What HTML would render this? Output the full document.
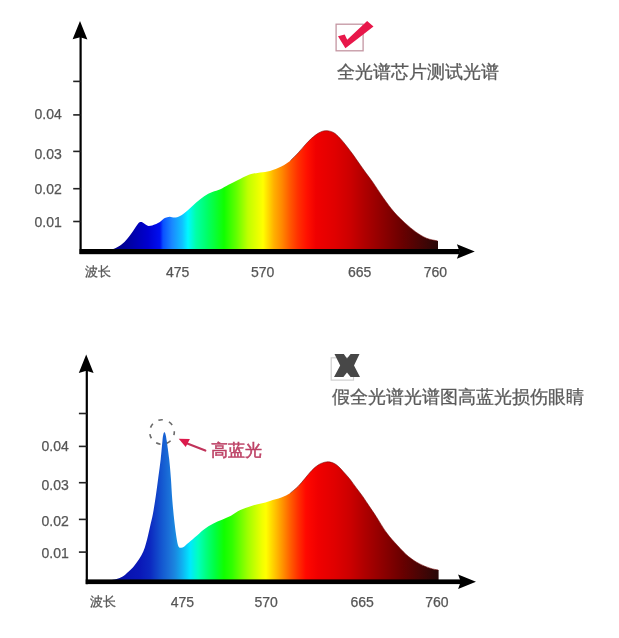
<!DOCTYPE html>
<html><head><meta charset="utf-8"><style>
html,body{margin:0;padding:0;background:#fff;width:619px;height:638px;overflow:hidden;position:relative}
#w{position:absolute;left:0;top:0;width:619px;height:638px;filter:blur(0.4px)}
.t{position:absolute;font-family:"Liberation Sans",sans-serif;line-height:1;white-space:nowrap}
</style></head><body><div id="w">
<svg width="619" height="638" style="position:absolute;left:0;top:0"><defs><linearGradient id="g1" gradientUnits="userSpaceOnUse" x1="110" y1="0" x2="438" y2="0"><stop offset="0.0061" stop-color="#000080"/><stop offset="0.0549" stop-color="#0000a0"/><stop offset="0.1159" stop-color="#0000d0"/><stop offset="0.1524" stop-color="#0010f0"/><stop offset="0.1616" stop-color="#0a50ff"/><stop offset="0.1890" stop-color="#1a88ff"/><stop offset="0.2195" stop-color="#10c0ff"/><stop offset="0.2378" stop-color="#00f8ff"/><stop offset="0.2622" stop-color="#00ffa8"/><stop offset="0.2957" stop-color="#00ff68"/><stop offset="0.3476" stop-color="#10ff00"/><stop offset="0.3841" stop-color="#60ff00"/><stop offset="0.4207" stop-color="#c0ff00"/><stop offset="0.4665" stop-color="#ffff00"/><stop offset="0.5000" stop-color="#ffb000"/><stop offset="0.5244" stop-color="#ff8800"/><stop offset="0.5488" stop-color="#ff5800"/><stop offset="0.5732" stop-color="#ff3000"/><stop offset="0.6006" stop-color="#ff1000"/><stop offset="0.6280" stop-color="#f00000"/><stop offset="0.6860" stop-color="#e00000"/><stop offset="0.7317" stop-color="#cc0000"/><stop offset="0.7744" stop-color="#b00000"/><stop offset="0.8902" stop-color="#6a0000"/><stop offset="0.9970" stop-color="#2a0808"/></linearGradient><linearGradient id="g2" gradientUnits="userSpaceOnUse" x1="110" y1="0" x2="438" y2="0"><stop offset="0.0061" stop-color="#0510a0"/><stop offset="0.0457" stop-color="#0812b0"/><stop offset="0.0915" stop-color="#0a18b8"/><stop offset="0.1220" stop-color="#0c28c0"/><stop offset="0.1402" stop-color="#1040c8"/><stop offset="0.1585" stop-color="#1458d0"/><stop offset="0.1799" stop-color="#1a70d8"/><stop offset="0.1982" stop-color="#1a88e0"/><stop offset="0.2195" stop-color="#10b0f0"/><stop offset="0.2439" stop-color="#00e8ff"/><stop offset="0.2683" stop-color="#00ffc0"/><stop offset="0.2927" stop-color="#00ff80"/><stop offset="0.3201" stop-color="#00ff40"/><stop offset="0.3476" stop-color="#10ff00"/><stop offset="0.3720" stop-color="#30ff00"/><stop offset="0.4207" stop-color="#a0ff00"/><stop offset="0.4634" stop-color="#f0ff00"/><stop offset="0.4756" stop-color="#ffff00"/><stop offset="0.5091" stop-color="#ffb800"/><stop offset="0.5274" stop-color="#ff9000"/><stop offset="0.5488" stop-color="#ff6000"/><stop offset="0.5732" stop-color="#ff3000"/><stop offset="0.5976" stop-color="#ff0800"/><stop offset="0.6341" stop-color="#f00000"/><stop offset="0.6860" stop-color="#e00000"/><stop offset="0.7317" stop-color="#cc0000"/><stop offset="0.7744" stop-color="#b00000"/><stop offset="0.8902" stop-color="#6a0000"/><stop offset="0.9970" stop-color="#2a0808"/></linearGradient></defs><path d="M110.00,250.00 C110.78,249.75 112.78,249.40 114.70,248.50 C116.62,247.60 119.40,246.22 121.50,244.60 C123.60,242.98 125.37,241.07 127.30,238.80 C129.23,236.53 131.32,233.52 133.10,231.00 C134.88,228.48 136.70,225.18 138.00,223.70 C139.30,222.22 139.93,222.17 140.90,222.10 C141.87,222.03 142.52,222.65 143.80,223.30 C145.08,223.95 146.67,225.85 148.60,226.00 C150.53,226.15 153.47,224.90 155.40,224.20 C157.33,223.50 158.63,222.82 160.20,221.80 C161.77,220.78 163.22,218.95 164.80,218.10 C166.38,217.25 168.08,216.78 169.70,216.70 C171.32,216.62 172.78,217.72 174.50,217.60 C176.22,217.48 177.73,217.28 180.00,216.00 C182.27,214.72 185.40,212.13 188.10,209.90 C190.80,207.67 193.52,204.88 196.20,202.60 C198.88,200.32 201.52,197.95 204.20,196.20 C206.88,194.45 209.60,193.25 212.30,192.10 C215.00,190.95 217.70,190.52 220.40,189.30 C223.10,188.08 225.57,186.35 228.50,184.80 C231.43,183.25 234.60,181.68 238.00,180.00 C241.40,178.32 245.20,175.97 248.90,174.70 C252.60,173.43 256.68,173.03 260.20,172.40 C263.72,171.77 266.48,171.90 270.00,170.90 C273.52,169.90 277.90,168.10 281.30,166.40 C284.70,164.70 287.57,162.97 290.40,160.70 C293.23,158.43 295.85,155.43 298.30,152.80 C300.75,150.17 302.85,147.35 305.10,144.90 C307.35,142.45 309.55,140.08 311.80,138.10 C314.05,136.12 316.33,134.23 318.60,133.00 C320.87,131.77 322.95,130.80 325.40,130.70 C327.85,130.60 330.87,131.15 333.30,132.40 C335.73,133.65 337.80,135.93 340.00,138.20 C342.20,140.47 344.33,143.27 346.50,146.00 C348.67,148.73 350.82,151.60 353.00,154.60 C355.18,157.60 357.40,160.88 359.60,164.00 C361.80,167.12 364.00,170.27 366.20,173.30 C368.40,176.33 369.97,178.13 372.80,182.20 C375.63,186.27 379.65,192.72 383.20,197.70 C386.75,202.68 390.48,207.90 394.10,212.10 C397.72,216.30 401.30,219.60 404.90,222.90 C408.50,226.20 412.10,229.35 415.70,231.90 C419.30,234.45 422.87,236.70 426.50,238.20 C430.13,239.70 435.67,240.45 437.50,240.90 L438,240.9 L438,252 L110,252 Z" fill="url(#g1)"/><path d="M110.00,580.50 C111.10,580.27 114.48,579.75 116.60,579.10 C118.72,578.45 120.68,577.88 122.70,576.60 C124.72,575.32 126.83,573.13 128.70,571.40 C130.57,569.67 132.18,568.22 133.90,566.20 C135.62,564.18 137.43,561.73 139.00,559.30 C140.57,556.87 142.15,554.18 143.30,551.60 C144.45,549.02 145.10,546.53 145.90,543.80 C146.70,541.07 147.35,538.33 148.10,535.20 C148.85,532.07 149.60,528.53 150.40,525.00 C151.20,521.47 152.00,518.83 152.90,514.00 C153.80,509.17 154.92,501.97 155.80,496.00 C156.68,490.03 157.38,484.32 158.20,478.20 C159.02,472.08 159.98,465.58 160.70,459.30 C161.42,453.02 162.05,444.68 162.50,440.50 C162.95,436.32 163.08,435.58 163.40,434.20 C163.72,432.82 164.05,432.20 164.40,432.20 C164.75,432.20 165.12,432.82 165.50,434.20 C165.88,435.58 166.08,436.32 166.70,440.50 C167.32,444.68 168.50,453.02 169.20,459.30 C169.90,465.58 170.38,471.42 170.90,478.20 C171.42,484.98 171.70,492.60 172.30,500.00 C172.90,507.40 173.75,516.00 174.50,522.60 C175.25,529.20 176.13,535.63 176.80,539.60 C177.47,543.57 177.80,545.03 178.50,546.40 C179.20,547.77 180.08,547.73 181.00,547.80 C181.92,547.87 183.00,547.42 184.00,546.80 C185.00,546.18 185.18,545.68 187.00,544.10 C188.82,542.52 192.08,539.75 194.90,537.30 C197.72,534.85 200.88,531.67 203.90,529.40 C206.92,527.13 209.98,525.30 213.00,523.70 C216.02,522.10 219.00,521.12 222.00,519.80 C225.00,518.48 227.95,517.42 231.00,515.80 C234.05,514.18 237.02,511.70 240.30,510.10 C243.58,508.50 247.25,507.28 250.70,506.20 C254.15,505.12 257.78,504.48 261.00,503.60 C264.22,502.72 266.62,501.92 270.00,500.90 C273.38,499.88 277.90,498.82 281.30,497.50 C284.70,496.18 287.57,494.88 290.40,493.00 C293.23,491.12 295.85,488.65 298.30,486.20 C300.75,483.75 302.85,480.93 305.10,478.30 C307.35,475.67 309.55,472.67 311.80,470.40 C314.05,468.13 316.15,466.12 318.60,464.70 C321.05,463.28 324.05,462.18 326.50,461.90 C328.95,461.62 331.30,462.23 333.30,463.00 C335.30,463.77 336.78,465.00 338.50,466.50 C340.22,468.00 341.73,469.93 343.60,472.00 C345.47,474.07 347.58,476.25 349.70,478.90 C351.82,481.55 354.10,484.93 356.30,487.90 C358.50,490.87 360.70,493.58 362.90,496.70 C365.10,499.82 367.30,503.32 369.50,506.60 C371.70,509.88 373.22,511.98 376.10,516.40 C378.98,520.82 383.20,528.22 386.80,533.10 C390.40,537.98 394.08,541.80 397.70,545.70 C401.32,549.60 404.90,553.50 408.50,556.50 C412.10,559.50 415.70,561.75 419.30,563.70 C422.90,565.65 426.95,567.15 430.10,568.20 C433.25,569.25 436.85,569.70 438.20,570.00 L438.6,570 L438.6,582 L110,582 Z" fill="url(#g2)"/><path d="M290.40,160.70 C291.72,159.38 295.85,155.43 298.30,152.80 C300.75,150.17 302.85,147.35 305.10,144.90 C307.35,142.45 309.55,140.08 311.80,138.10 C314.05,136.12 316.33,134.23 318.60,133.00 C320.87,131.77 322.95,130.80 325.40,130.70 C327.85,130.60 330.87,131.15 333.30,132.40 C335.73,133.65 337.80,135.93 340.00,138.20 C342.20,140.47 344.33,143.27 346.50,146.00 C348.67,148.73 350.82,151.60 353.00,154.60 C355.18,157.60 357.40,160.88 359.60,164.00 C361.80,167.12 364.00,170.27 366.20,173.30 C368.40,176.33 369.97,178.13 372.80,182.20 C375.63,186.27 379.65,192.72 383.20,197.70 C386.75,202.68 390.48,207.90 394.10,212.10 C397.72,216.30 401.30,219.60 404.90,222.90 C408.50,226.20 412.10,229.35 415.70,231.90 C419.30,234.45 422.87,236.70 426.50,238.20 C430.13,239.70 435.67,240.45 437.50,240.90" fill="none" stroke="#700000" stroke-opacity="0.55" stroke-width="1"/><path d="M290.40,493.00 C291.72,491.87 295.85,488.65 298.30,486.20 C300.75,483.75 302.85,480.93 305.10,478.30 C307.35,475.67 309.55,472.67 311.80,470.40 C314.05,468.13 316.15,466.12 318.60,464.70 C321.05,463.28 324.05,462.18 326.50,461.90 C328.95,461.62 331.30,462.23 333.30,463.00 C335.30,463.77 336.78,465.00 338.50,466.50 C340.22,468.00 341.73,469.93 343.60,472.00 C345.47,474.07 347.58,476.25 349.70,478.90 C351.82,481.55 354.10,484.93 356.30,487.90 C358.50,490.87 360.70,493.58 362.90,496.70 C365.10,499.82 367.30,503.32 369.50,506.60 C371.70,509.88 373.22,511.98 376.10,516.40 C378.98,520.82 383.20,528.22 386.80,533.10 C390.40,537.98 394.08,541.80 397.70,545.70 C401.32,549.60 404.90,553.50 408.50,556.50 C412.10,559.50 415.70,561.75 419.30,563.70 C422.90,565.65 426.95,567.15 430.10,568.20 C433.25,569.25 436.85,569.70 438.20,570.00" fill="none" stroke="#700000" stroke-opacity="0.55" stroke-width="1"/><rect x="79.50" y="36.00" width="2.2" height="218.00" fill="#000"/><polygon points="80.00,20.90 87.40,39.50 80.20,37.20 72.60,39.30" fill="#000"/><rect x="73.20" y="80.60" width="7.40" height="1.6" fill="#222"/><rect x="73.20" y="114.10" width="7.40" height="1.6" fill="#222"/><rect x="73.20" y="150.60" width="7.40" height="1.6" fill="#222"/><rect x="73.20" y="187.90" width="7.40" height="1.6" fill="#222"/><rect x="73.20" y="220.70" width="7.40" height="1.6" fill="#222"/><rect x="79.50" y="249.00" width="380.30" height="5.20" fill="#000"/><polygon points="474.80,251.50 456.90,258.70 459.60,251.50 456.90,244.20" fill="#000"/><rect x="85.70" y="369.60" width="2.2" height="214.60" fill="#000"/><polygon points="86.20,354.50 93.60,373.10 86.40,370.80 78.80,372.90" fill="#000"/><rect x="78.90" y="412.70" width="7.90" height="1.6" fill="#222"/><rect x="78.90" y="445.60" width="7.90" height="1.6" fill="#222"/><rect x="78.90" y="481.90" width="7.90" height="1.6" fill="#222"/><rect x="78.90" y="518.60" width="7.90" height="1.6" fill="#222"/><rect x="78.90" y="551.30" width="7.90" height="1.6" fill="#222"/><rect x="85.70" y="579.40" width="375.30" height="4.70" fill="#000"/><polygon points="476.00,581.70 458.10,588.90 460.80,581.70 458.10,574.40" fill="#000"/><rect x="336.1" y="24.2" width="27" height="26.6" fill="none" stroke="#c496a2" stroke-width="1.3"/><polygon points="338,36.2 344.7,34.6 347.2,39.8 367.1,21.1 373.5,26.6 345.4,48.2" fill="#e8174a"/><rect x="331.2" y="357.8" width="22.3" height="22.3" fill="none" stroke="#cfcfcf" stroke-width="1.2"/><polygon points="334.5,354 343.8,354 347,358.6 350.6,354 359.5,354 354,365.5 360,377 350.6,377 347,372.5 343.4,377 334,377 340.2,365.5" fill="#474747"/><circle cx="162" cy="432" r="12.3" fill="none" stroke="#6a6a6a" stroke-width="1.6" stroke-dasharray="4.5 6.54" stroke-dashoffset="1.3"/><line x1="186" y1="443" x2="205.3" y2="450.6" stroke="#c0335a" stroke-width="2.2" stroke-linecap="round"/><polygon points="178.7,438.8 189.9,439.1 185.7,447" fill="#dc1a4c"/></svg><div class="t" style="left:34.50px;top:107.10px;font-size:14px;color:#555;-webkit-text-stroke:0.25px #555;">0.04</div><div class="t" style="left:34.50px;top:146.50px;font-size:14px;color:#555;-webkit-text-stroke:0.25px #555;">0.03</div><div class="t" style="left:34.50px;top:182.30px;font-size:14px;color:#555;-webkit-text-stroke:0.25px #555;">0.02</div><div class="t" style="left:34.50px;top:214.90px;font-size:14px;color:#555;-webkit-text-stroke:0.25px #555;">0.01</div><div class="t" style="left:41.50px;top:438.80px;font-size:14px;color:#555;-webkit-text-stroke:0.25px #555;">0.04</div><div class="t" style="left:41.50px;top:478.20px;font-size:14px;color:#555;-webkit-text-stroke:0.25px #555;">0.03</div><div class="t" style="left:41.50px;top:513.80px;font-size:14px;color:#555;-webkit-text-stroke:0.25px #555;">0.02</div><div class="t" style="left:41.50px;top:546.20px;font-size:14px;color:#555;-webkit-text-stroke:0.25px #555;">0.01</div><div class="t" style="left:84.60px;top:264.60px;font-size:13.3px;color:#555;-webkit-text-stroke:0.3px #5a5a5a;">波长</div><div class="t" style="left:89.60px;top:594.60px;font-size:13.3px;color:#555;-webkit-text-stroke:0.3px #5a5a5a;">波长</div><div class="t" style="left:166.00px;top:264.70px;font-size:14px;color:#555;-webkit-text-stroke:0.25px #555;">475</div><div class="t" style="left:250.90px;top:264.70px;font-size:14px;color:#555;-webkit-text-stroke:0.25px #555;">570</div><div class="t" style="left:347.90px;top:264.70px;font-size:14px;color:#555;-webkit-text-stroke:0.25px #555;">665</div><div class="t" style="left:423.70px;top:264.70px;font-size:14px;color:#555;-webkit-text-stroke:0.25px #555;">760</div><div class="t" style="left:170.80px;top:594.70px;font-size:14px;color:#555;-webkit-text-stroke:0.25px #555;">475</div><div class="t" style="left:254.50px;top:594.70px;font-size:14px;color:#555;-webkit-text-stroke:0.25px #555;">570</div><div class="t" style="left:350.50px;top:594.70px;font-size:14px;color:#555;-webkit-text-stroke:0.25px #555;">665</div><div class="t" style="left:425.20px;top:594.70px;font-size:14px;color:#555;-webkit-text-stroke:0.25px #555;">760</div><div class="t" style="left:336.60px;top:62.50px;font-size:18px;color:#5a5a5a;-webkit-text-stroke:0.3px #5a5a5a;">全光谱芯片测试光谱</div><div class="t" style="left:331.50px;top:388.00px;font-size:18px;color:#5a5a5a;-webkit-text-stroke:0.3px #5a5a5a;">假全光谱光谱图高蓝光损伤眼睛</div><div class="t" style="left:210.60px;top:443.00px;font-size:16.6px;color:#c24468;-webkit-text-stroke:0.5px #b83c60;letter-spacing:0.4px;">高蓝光</div>
</div></body></html>
